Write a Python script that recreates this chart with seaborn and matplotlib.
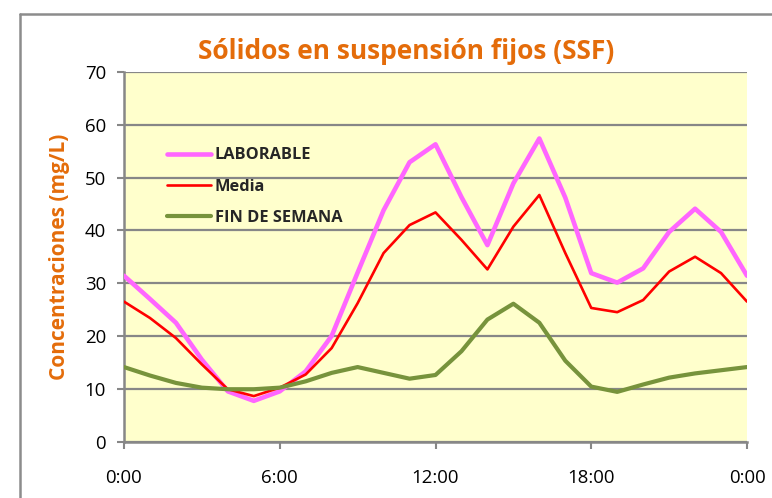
import matplotlib
matplotlib.use("Agg")
import matplotlib.pyplot as plt
import matplotlib.lines as mlines
import seaborn as sns
import pandas as pd

# ---- data ----
hours = list(range(25))
laborable = [31.4, 27.0, 22.5, 15.5, 9.5, 7.7, 9.5, 13.3, 20.0, 32.0, 43.8, 52.9, 56.3,
             46.3, 37.2, 48.9, 57.4, 46.2, 31.9, 30.1, 32.8, 39.7, 44.1, 39.7, 31.4]
media = [26.5, 23.4, 19.6, 14.6, 9.9, 8.6, 10.2, 12.7, 17.7, 26.2, 35.7, 41.0, 43.4,
         38.2, 32.6, 40.7, 46.7, 35.7, 25.3, 24.5, 26.8, 32.2, 35.0, 31.9, 26.5]
fin_semana = [14.1, 12.5, 11.1, 10.2, 9.9, 9.9, 10.2, 11.4, 13.0, 14.1, 13.0, 11.9, 12.6,
              17.1, 23.1, 26.1, 22.5, 15.3, 10.4, 9.4, 10.8, 12.1, 12.9, 13.5, 14.1]
series_names = ["LABORABLE", "Media", "FIN DE SEMANA"]
x_tick_pos = [0, 6, 12, 18, 24]
x_tick_labels = ["0:00", "6:00", "12:00", "18:00", "0:00"]
y_ticks = [0, 10, 20, 30, 40, 50, 60, 70]
title = "Sólidos en suspensión fijos (SSF)"
ylabel = "Concentraciones (mg/L)"

colors = {"LABORABLE": "#FF66FF", "Media": "#FF0000", "FIN DE SEMANA": "#77933C"}
widths = {"LABORABLE": 3.3, "Media": 1.9, "FIN DE SEMANA": 3.0}

sns.set_theme(style="white")
plt.rcParams["font.family"] = ["Open Sans", "DejaVu Sans"]

fig = plt.figure(figsize=(7.72, 4.98), dpi=100)
ax = fig.add_axes([124 / 772, 1 - 441.5 / 498, 623 / 772, 369.5 / 498])
ax.set_facecolor("#FFFFCC")

df = pd.DataFrame({
    "hora": hours * 3,
    "valor": laborable + media + fin_semana,
    "serie": [series_names[0]] * 25 + [series_names[1]] * 25 + [series_names[2]] * 25,
})

for name in series_names:
    sub = df[df["serie"] == name]
    sns.lineplot(data=sub, x="hora", y="valor", ax=ax, color=colors[name],
                 linewidth=widths[name], label=name, zorder=3,
                 solid_capstyle="round", solid_joinstyle="round")

ax.set_xlim(0, 24)
ax.set_ylim(0, 70)
ax.set_yticks(y_ticks)
ax.set_xticks(x_tick_pos)
ax.set_xticklabels(x_tick_labels)
ax.yaxis.grid(True, color="#878787", linewidth=1.6, zorder=1)
ax.set_axisbelow(True)
ax.xaxis.grid(False)

for s in ["top", "right"]:
    ax.spines[s].set_visible(False)
for s in ["left", "bottom"]:
    ax.spines[s].set_color("#878787")
    ax.spines[s].set_linewidth(1.8)

ax.tick_params(axis="both", which="both", direction="out", color="#878787",
               width=1.5, length=5, labelsize=13.4, labelcolor="black")
ax.tick_params(axis="x", pad=14.5)
ax.tick_params(axis="y", pad=8)
ax.tick_params(left=True, bottom=True)

ax.set_xlabel("")
ax.set_ylabel(ylabel, color="#E46C0A", fontsize=15, fontweight="bold", labelpad=10.5)

handles = [mlines.Line2D([], [], color=colors[n], linewidth=widths[n]) for n in series_names]
leg = ax.legend(handles, series_names, loc="upper left", bbox_to_anchor=(0.069, 0.796),
                frameon=False, borderpad=0, borderaxespad=0, handlelength=2.7,
                handletextpad=0.2, labelspacing=0.94,
                prop={"family": ["Open Sans", "DejaVu Sans"], "weight": "bold", "size": 11.8})

fig.text(406 / 772, 1 - 59 / 498, title, ha="center", va="baseline",
         color="#E46C0A", fontsize=19, fontweight="bold")

# outer chart border (extends beyond the picture at right and bottom)
fig.add_artist(mlines.Line2D([20 / 772, 20 / 772], [0, 1 - 14 / 498],
                             transform=fig.transFigure, color="#8C8C8C", linewidth=1.8))
fig.add_artist(mlines.Line2D([20 / 772, 1], [1 - 14 / 498, 1 - 14 / 498],
                             transform=fig.transFigure, color="#8C8C8C", linewidth=1.8))

fig.savefig("out.png", dpi=100, facecolor="white")
